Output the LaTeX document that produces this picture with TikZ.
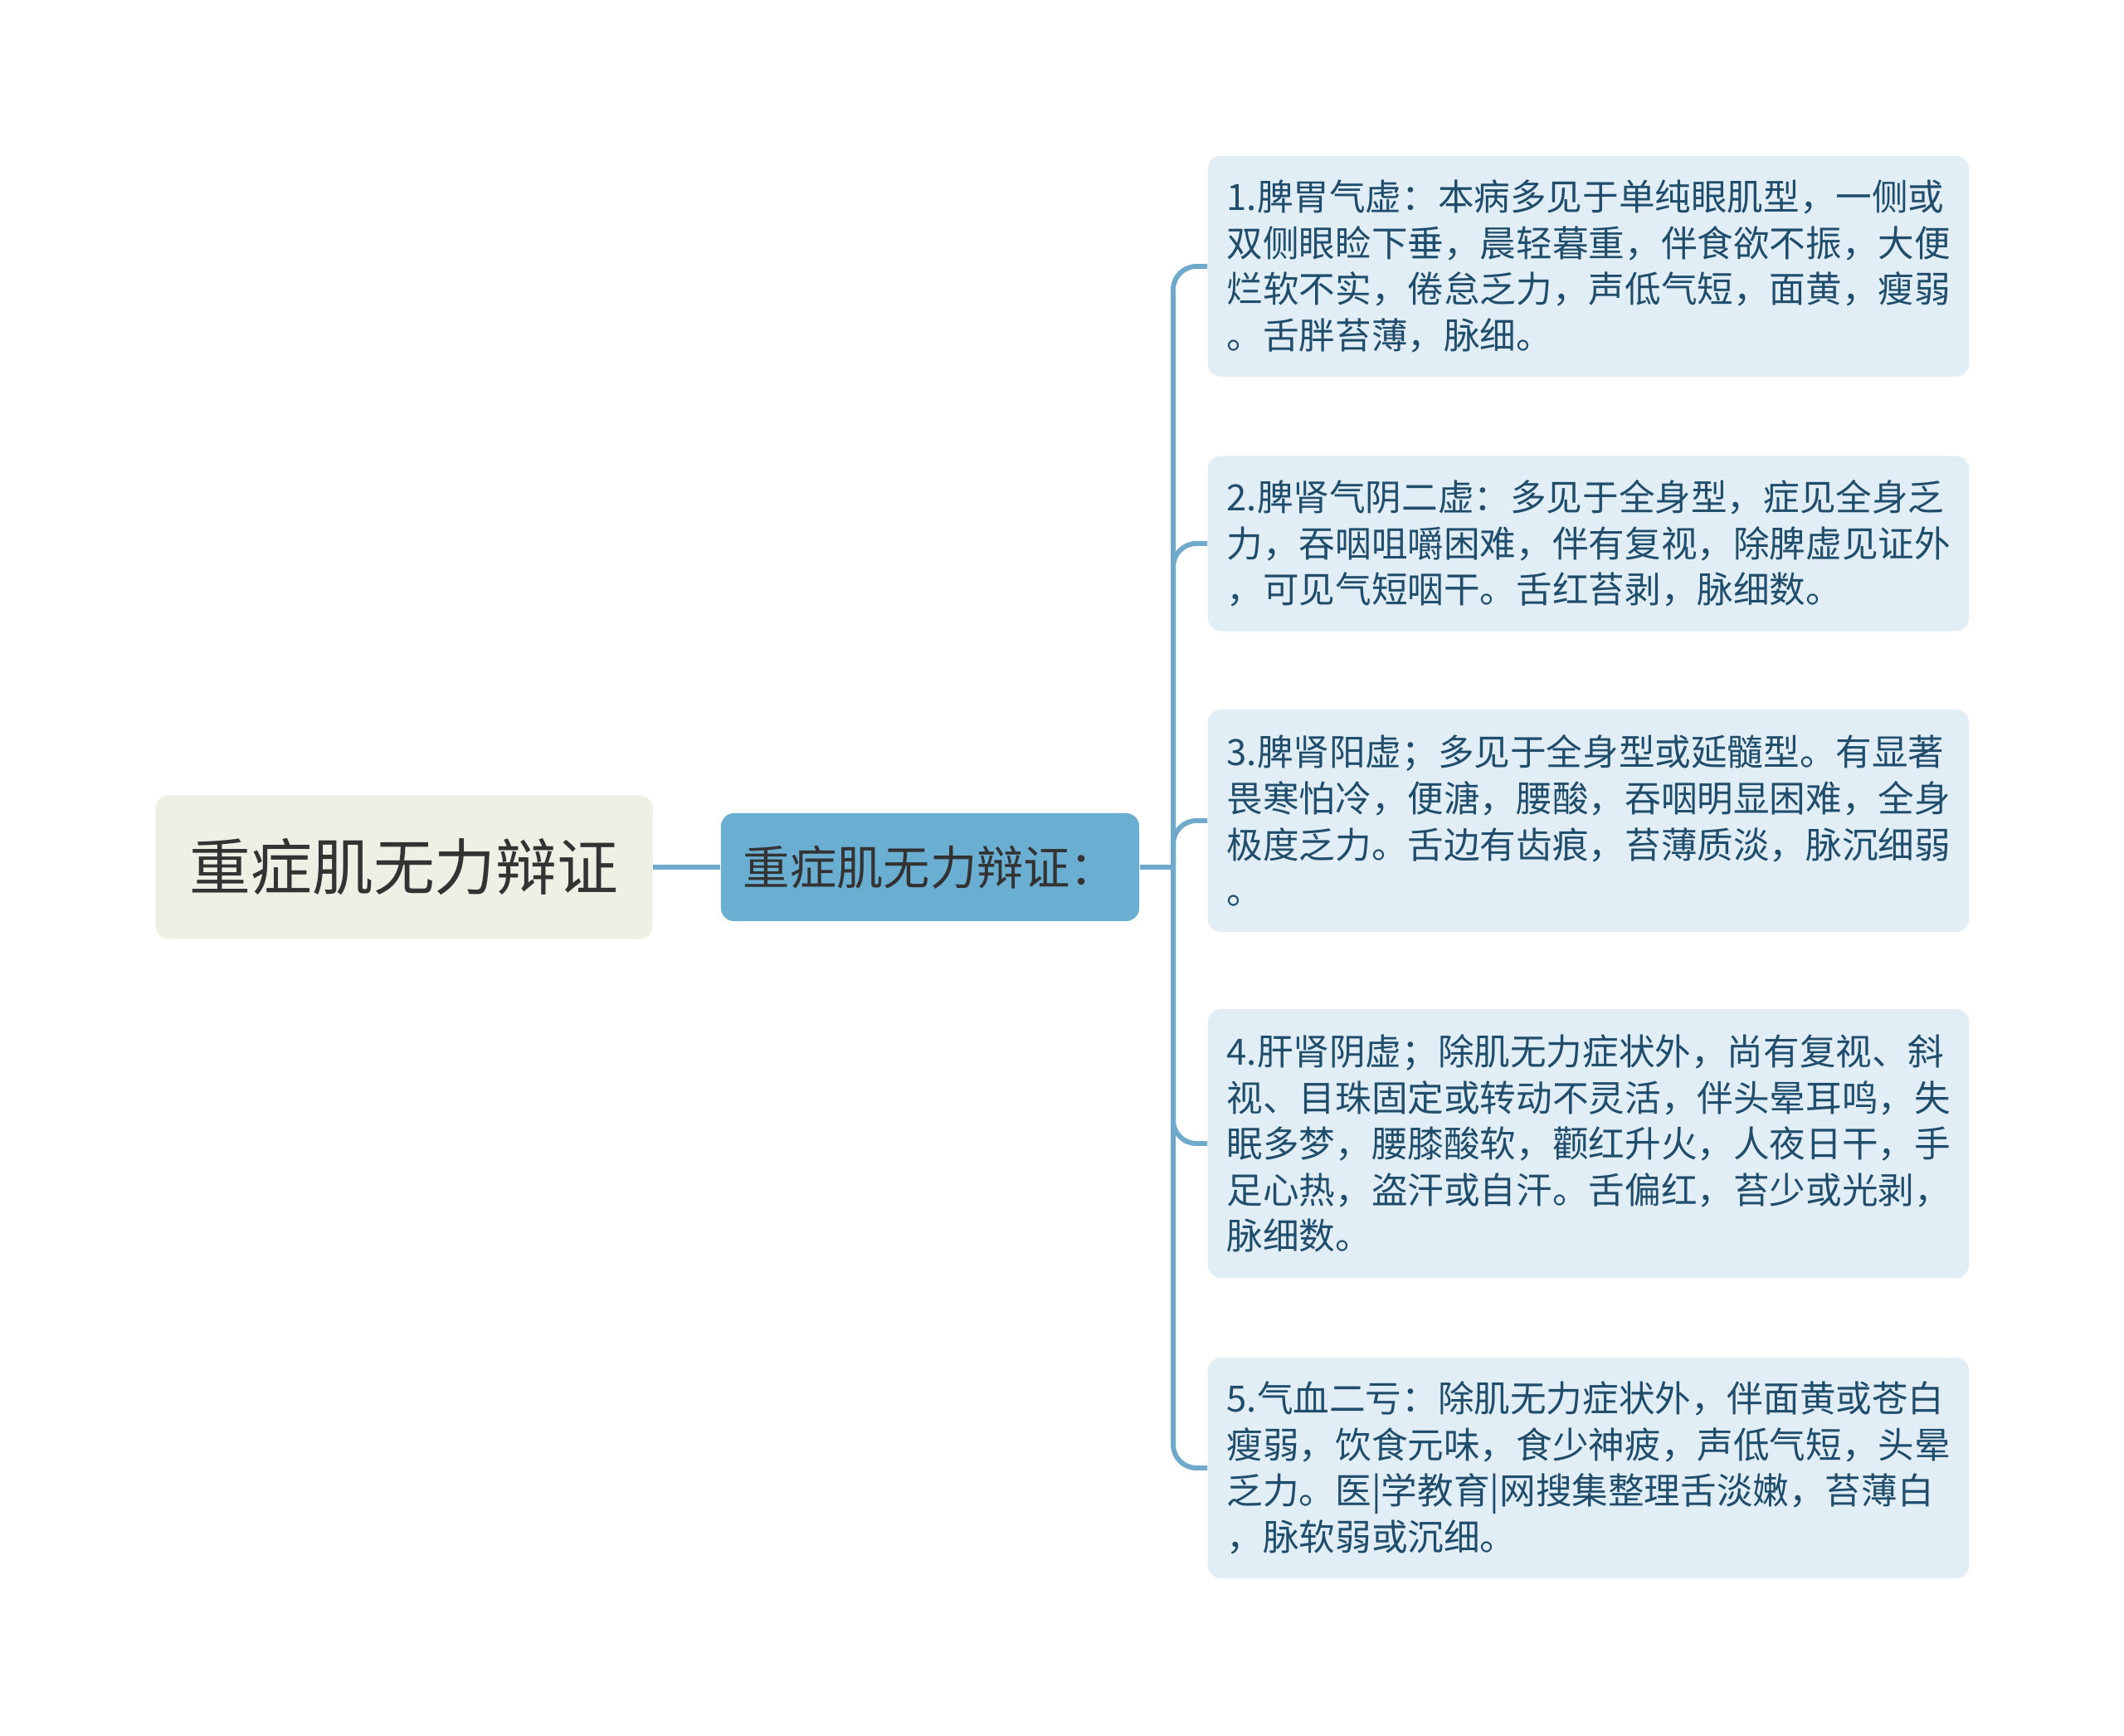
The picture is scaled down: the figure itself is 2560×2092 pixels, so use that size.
\documentclass[tikz,border=0pt]{standalone}
\usepackage{fontspec}
\setmainfont{Noto Sans CJK SC}
\definecolor{rootfill}{HTML}{EFEFE6}
\definecolor{midfill}{HTML}{6AAED2}
\definecolor{leaffill}{HTML}{E2EEF6}
\definecolor{leaftext}{HTML}{1F4D6B}
\definecolor{wire}{HTML}{6FAACD}
\definecolor{darktext}{HTML}{333333}
\tikzset{
  elbow/.style={rounded corners=0.28cm, to path={|- (\tikztotarget)}},
}
\begin{document}
\begin{tikzpicture}[x=0.01cm,y=-0.01cm]
    \useasboundingbox (0,0) rectangle (2560,2092);
    \node (root)[fill=rootfill, rounded corners=0.16cm, minimum width=5.99cm, minimum height=1.73cm,
                 text=darktext, font=\fontsize{21pt}{25pt}\selectfont] at (487,1045) {重症肌无力辩证};
    \node (mid)[fill=midfill, rounded corners=0.16cm, minimum width=5.04cm, minimum height=1.30cm,
                text=darktext, font=\fontsize{16pt}{19pt}\selectfont] at (1121,1045) {重症肌无力辩证：};
    \begin{scope}[every node/.style={fill=leaffill, rounded corners=0.16cm, anchor=west,
                  text width=8.71cm, inner xsep=0.23cm, inner ysep=0pt, align=left,
                  text=leaftext, font=\fontsize{12.4pt}{15.8pt}\selectfont}]
      \node (b1)[minimum height=2.66cm] at (1455,321) {1.脾胃气虚：本病多见于单纯眼肌型，一侧或\\双侧眼睑下垂，晨轻暮重，伴食欲不振，大便\\烂软不实，倦怠乏力，声低气短，面黄，瘦弱\\。舌胖苔薄，脉细。};
      \node (b2)[minimum height=2.11cm] at (1455,655) {2.脾肾气阴二虚：多见于全身型，症见全身乏\\力，吞咽咀嚼困难，伴有复视，除脾虚见证外\\，可见气短咽干。舌红苔剥，脉细数。};
      \node (b3)[minimum height=2.68cm] at (1455,989) {3.脾肾阳虚；多见于全身型或延髓型。有显著\\畏寒怕冷，便溏，腰酸，吞咽明显困难，全身\\极度乏力。舌边有齿痕，苔薄质淡，脉沉细弱\\。};
      \node (b4)[minimum height=3.24cm] at (1455,1378) {4.肝肾阴虚；除肌无力症状外，尚有复视、斜\\视、目珠固定或转动不灵活，伴头晕耳鸣，失\\眠多梦，腰膝酸软，颧红升火，人夜日干，手\\足心热，盗汗或自汗。舌偏红，苔少或光剥，\\脉细数。};
      \node (b5)[minimum height=2.66cm] at (1455,1769) {5.气血二亏：除肌无力症状外，伴面黄或苍白\\瘦弱，饮食元味，食少神疲，声低气短，头晕\\乏力。医|学教育|网搜集整理舌淡嫩，苔薄白\\，脉软弱或沉细。};
    \end{scope}
    \coordinate (bus) at (1414,1045);
    \begin{scope}[every edge/.style={draw=wire, line width=1.7pt}]
      \path (root) edge (mid)
            (mid) edge (bus);
      \path (bus) edge[elbow] (b1.west)
            (bus) edge[elbow] (b2.west)
            (bus) edge[elbow] (b3.west)
            (bus) edge[elbow] (b4.west)
            (bus) edge[elbow] (b5.west);
    \end{scope}
\end{tikzpicture}
\end{document}
